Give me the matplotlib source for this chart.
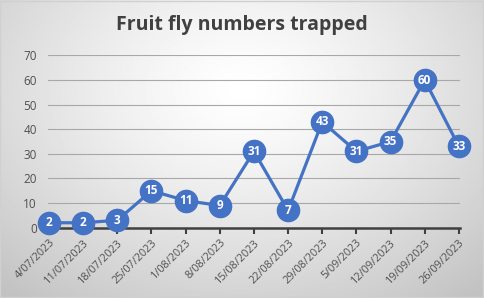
import numpy as np
import matplotlib
matplotlib.use("Agg")
import matplotlib.pyplot as plt

dates = ["4/07/2023", "11/07/2023", "18/07/2023", "25/07/2023", "1/08/2023",
         "8/08/2023", "15/08/2023", "22/08/2023", "29/08/2023", "5/09/2023",
         "12/09/2023", "19/09/2023", "26/09/2023"]
flies = [2, 2, 3, 15, 11, 9, 31, 7, 43, 31, 35, 60, 33]
yticks = [0, 10, 20, 30, 40, 50, 60, 70]

blue = "#4472C4"
plt.rcParams["font.family"] = ["Open Sans", "DejaVu Sans"]

fig = plt.figure(figsize=(4.84, 2.98), dpi=100)

# fondo con degradado radial
bg = fig.add_axes([0, 0, 1, 1], zorder=0)
yy, xx = np.mgrid[0:1:300j, 0:1:480j]
r = np.sqrt(((xx - 0.5) / 0.75) ** 2 + ((yy - 0.3) / 0.9) ** 2)
shade = 1 - 0.24 * np.clip(r, 0, 1) ** 1.3
bg.imshow(shade, cmap="gray", vmin=0, vmax=1, aspect="auto", extent=[0, 1, 0, 1])
bg.set_axis_off()
bg.add_patch(plt.Rectangle((0.001, 0.002), 0.997, 0.995, fill=False,
                           edgecolor="#d0d0d0", lw=1, transform=bg.transAxes))

ax = fig.add_axes([0.0992, 0.236, 0.851, 0.578], zorder=1)
ax.patch.set_alpha(0)
x = np.arange(len(flies))
ax.plot(x, flies, color=blue, lw=2.3, marker="o", markersize=16,
        markerfacecolor=blue, markeredgecolor=blue, clip_on=False, zorder=3)
for xi, v in zip(x, flies):
    ax.text(xi, v, str(v), color="white", fontsize=8.5, fontweight="bold",
            ha="center", va="center", zorder=4)

ax.set_xlim(-0.03, len(flies) - 1 + 0.03)
ax.set_ylim(0, 70)
ax.set_yticks(yticks)
ax.set_xticks(x)
ax.set_xticklabels(dates, rotation=45, ha="right", rotation_mode="anchor")
ax.grid(axis="y", color="#a8a8a8", lw=0.8)
ax.set_axisbelow(True)
for s in ["top", "right", "left"]:
    ax.spines[s].set_visible(False)
ax.spines["bottom"].set_color("#404040")
ax.spines["bottom"].set_linewidth(1.8)
ax.tick_params(axis="y", length=0, labelsize=8.5, labelcolor="#505050", pad=8)
ax.tick_params(axis="x", length=4, width=1.5, color="#404040", labelsize=7.8,
               labelcolor="#505050", pad=3)

fig.text(0.5, 0.915, "Fruit fly numbers trapped", ha="center", va="center",
         fontsize=14, fontweight="bold", color="#404040")

fig.savefig("out.png", dpi=100)
